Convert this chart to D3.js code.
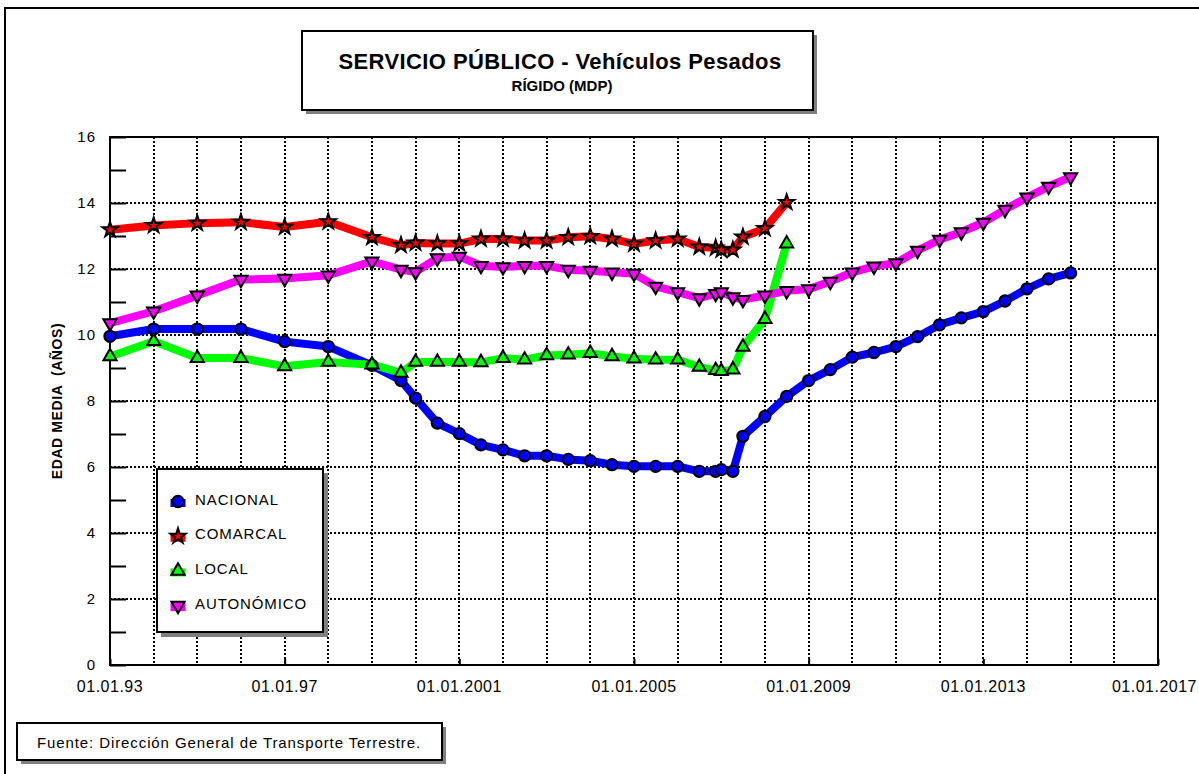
<!DOCTYPE html>
<html>
<head>
<meta charset="utf-8">
<script src="https://cdn.jsdelivr.net/npm/d3@7"></script>
<style>
  body { margin: 0; background: #fff; }
  svg { display: block; font-family: "Liberation Sans", Arial, sans-serif; }
</style>
</head>
<body>
<div id="chart"></div>
<script>
// fechas de muestreo (algunas a mitad de año)
const fechas = ["1993-01-01","1994-01-01","1995-01-01","1996-01-01","1997-01-01","1998-01-01","1999-01-01","1999-09-01",
  "2000-01-01","2000-07-01","2001-01-01","2001-07-01","2002-01-01","2002-07-01","2003-01-01","2003-07-01",
  "2004-01-01","2004-07-01","2005-01-01","2005-07-01","2006-01-01","2006-07-01","2006-11-15","2007-01-01",
  "2007-04-08","2007-07-01","2008-01-01","2008-07-01","2009-01-01","2009-07-01","2010-01-01","2010-07-01",
  "2011-01-01","2011-07-01","2012-01-01","2012-07-01","2013-01-01","2013-07-01","2014-01-01","2014-07-01","2015-01-01"];

const nacional = [9.96,10.18,10.18,10.18,9.80,9.65,9.08,8.62,8.09,7.33,7.01,6.67,6.52,6.34,6.34,6.23,6.19,6.07,6.02,6.02,
  6.02,5.87,5.87,5.92,5.87,6.93,7.53,8.14,8.62,8.95,9.33,9.47,9.65,9.95,10.31,10.52,10.71,11.03,11.40,11.70,11.88];
const comarcal = [13.19,13.32,13.39,13.42,13.27,13.43,12.96,12.72,12.79,12.77,12.77,12.91,12.91,12.86,12.86,12.96,12.99,
  12.91,12.76,12.86,12.91,12.67,12.64,12.58,12.58,12.97,13.23,14.02];
const local = [9.35,9.81,9.30,9.30,9.05,9.18,9.10,8.85,9.18,9.18,9.18,9.17,9.30,9.25,9.38,9.40,9.45,9.35,9.28,9.25,9.25,
  9.03,8.93,8.90,8.95,9.64,10.48,12.77];
const autonomico = [10.36,10.72,11.20,11.68,11.71,11.81,12.23,11.98,11.91,12.33,12.38,12.10,12.06,12.10,12.10,11.98,11.95,
  11.90,11.86,11.47,11.30,11.12,11.25,11.30,11.15,11.07,11.20,11.34,11.39,11.62,11.90,12.08,12.18,12.56,12.89,13.12,
  13.41,13.80,14.17,14.50,14.79];

const seriesNames = ["NACIONAL", "COMARCAL", "LOCAL", "AUTONÓMICO"];
const xTickLabels = ["01.01.93","01.01.97","01.01.2001","01.01.2005","01.01.2009","01.01.2013","01.01.2017"];

const width = 1199, height = 774,
    margin = ({ top: 137, right: 41, bottom: 109, left: 110 });

const parse = d3.timeParse("%Y-%m-%d");

const series = [
  { name: seriesNames[0], values: nacional, color: "#0000ff", symbol: d3.symbolCircle, size: 100, rot: 0 },
  { name: seriesNames[1], values: comarcal, color: "#ff0000", symbol: d3.symbolStar, size: 70, rot: 0 },
  { name: seriesNames[2], values: local, color: "#00ff00", symbol: d3.symbolTriangle, size: 75, rot: 0 },
  { name: seriesNames[3], values: autonomico, color: "#ff00ff", symbol: d3.symbolTriangle, size: 75, rot: 180 }
];
series.forEach(s => s.points = s.values.map((v, i) => ({ date: parse(fechas[i]), value: v })));

const svg = d3.select("#chart")
  .append("svg")
  .attr("width", width)
  .attr("height", height);

// marco exterior
svg.append("rect")
  .attr("x", 5).attr("y", 8)
  .attr("width", width + 10).attr("height", height + 10)
  .attr("fill", "none").attr("stroke", "#000").attr("stroke-width", 2);

const x = d3.scaleTime()
  .domain([parse("1993-01-01"), parse("2017-01-01")])
  .range([margin.left, width - margin.right]);

const y = d3.scaleLinear()
  .domain([0, 16])
  .range([height - margin.bottom, margin.top]);

// rejilla
const grid = svg.append("g").attr("class", "grid")
  .attr("stroke", "#000").attr("stroke-width", 2).attr("stroke-dasharray", "2,2");

grid.selectAll("line.v")
  .data(d3.timeYear.range(parse("1994-01-01"), parse("2017-01-01")))
  .join("line")
  .attr("class", "v")
  .attr("x1", d => Math.round(x(d))).attr("x2", d => Math.round(x(d)))
  .attr("y1", y(16)).attr("y2", y(0));

grid.selectAll("line.h")
  .data(d3.range(2, 16, 2))
  .join("line")
  .attr("class", "h")
  .attr("x1", x.range()[0]).attr("x2", x.range()[1])
  .attr("y1", d => Math.round(y(d))).attr("y2", d => Math.round(y(d)));

// ejes
const yAxis = svg.append("g")
  .attr("transform", `translate(${margin.left},0)`)
  .call(d3.axisRight(y).tickValues(d3.range(0, 17)).tickSize(16).tickFormat(""));
yAxis.select(".domain").remove();
yAxis.selectAll(".tick line").attr("stroke-width", 2);

svg.append("g")
  .selectAll("text")
  .data(d3.range(0, 17, 2))
  .join("text")
  .attr("x", margin.left - 14)
  .attr("y", d => y(d))
  .attr("dy", "0.35em")
  .attr("text-anchor", "end")
  .style("font-size", "15px")
  .style("letter-spacing", "1px")
  .text(d => d);

const xTicks = d3.range(1993, 2018, 4).map(yr => parse(yr + "-01-01"));

const xAxis = svg.append("g")
  .attr("transform", `translate(0,${height - margin.bottom})`)
  .call(d3.axisTop(x).tickValues(xTicks).tickSize(6).tickFormat(""));
xAxis.select(".domain").remove();
xAxis.selectAll(".tick line").attr("stroke-width", 2);

svg.append("g")
  .selectAll("text")
  .data(xTicks)
  .join("text")
  .attr("y", height - margin.bottom + 27)
  .attr("text-anchor", "middle")
  .style("font-size", "16px")
  .style("letter-spacing", "0.5px")
  .text((d, i) => xTickLabels[i])
  .attr("x", function(d) {
    // la última etiqueta queda pegada al borde derecho
    const half = this.getComputedTextLength() / 2;
    return Math.min(x(d), width - 2 - half);
  });

// marco del gráfico
svg.append("path")
  .attr("d", `M${x.range()[0]},${y(16)}H${x.range()[1]}V${y(0)}H${x.range()[0]}Z`)
  .attr("fill", "none").attr("stroke", "#000").attr("stroke-width", 2);

// líneas
const line = d3.line().x(d => x(d.date)).y(d => y(d.value));

svg.append("g").selectAll("path")
  .data(series)
  .join("path")
  .attr("d", s => line(s.points))
  .attr("fill", "none")
  .attr("stroke", s => s.color)
  .attr("stroke-width", 8)
  .attr("stroke-linejoin", "round");

// marcadores
const symbolPath = (s) => d3.symbol().type(s.symbol).size(s.size)();

series.forEach(s => {
  svg.append("g").selectAll("path")
    .data(s.points)
    .join("path")
    .attr("d", symbolPath(s))
    .attr("transform", d => `translate(${x(d.date)},${y(d.value)}) rotate(${s.rot})`)
    .attr("fill", s.color)
    .attr("stroke", "#000")
    .attr("stroke-width", 2);
});

// leyenda
const lg = svg.append("g").attr("class", "legend");
lg.append("rect").attr("x", 161).attr("y", 473).attr("width", 167).attr("height", 164).attr("fill", "#808080");
lg.append("rect").attr("x", 157).attr("y", 469).attr("width", 166).attr("height", 163)
  .attr("fill", "#fff").attr("stroke", "#000").attr("stroke-width", 2);

const item = lg.selectAll("g.item")
  .data(series)
  .join("g")
  .attr("class", "item")
  .attr("transform", (d, i) => `translate(178,${501.5 + i * 34.7})`);

item.append("rect")
  .attr("x", -7.5).attr("y", -2.5).attr("width", 15).attr("height", 8)
  .attr("fill", d => d.color);
item.append("path")
  .attr("d", d => symbolPath(d))
  .attr("transform", d => `rotate(${d.rot})`)
  .attr("fill", d => d.color)
  .attr("stroke", "#000").attr("stroke-width", 2);
item.append("text")
  .attr("x", 17).attr("y", 3)
  .style("font-size", "15px")
  .style("letter-spacing", "0.9px")
  .text(d => d.name);

// título
svg.append("rect").attr("x", 306).attr("y", 35).attr("width", 511).attr("height", 79).attr("fill", "#808080");
svg.append("rect").attr("x", 302).attr("y", 31).attr("width", 511).attr("height", 79)
  .attr("fill", "#fff").attr("stroke", "#000").attr("stroke-width", 2);
svg.append("text")
  .attr("x", 560).attr("y", 69)
  .attr("text-anchor", "middle")
  .style("font-size", "22px").style("font-weight", "bold")
  .style("letter-spacing", "0.4px")
  .text("SERVICIO PÚBLICO - Vehículos Pesados");
svg.append("text")
  .attr("x", 562).attr("y", 91)
  .attr("text-anchor", "middle")
  .style("font-size", "15px").style("font-weight", "bold")
  .text("RÍGIDO (MDP)");

// etiqueta eje y
svg.append("text")
  .attr("transform", `translate(62,${y(8)}) rotate(-90)`)
  .attr("text-anchor", "middle")
  .style("font-size", "14px").style("font-weight", "bold")
  .style("letter-spacing", "0.6px")
  .style("white-space", "pre")
  .text("EDAD MEDIA  (AÑOS)");

// fuente
svg.append("rect").attr("x", 21).attr("y", 727).attr("width", 425).attr("height", 37).attr("fill", "#808080");
svg.append("rect").attr("x", 17).attr("y", 723).attr("width", 425).attr("height", 37)
  .attr("fill", "#fff").attr("stroke", "#000").attr("stroke-width", 2);
svg.append("text")
  .attr("x", 37).attr("y", 748)
  .style("font-size", "15px")
  .style("letter-spacing", "0.9px")
  .text("Fuente: Dirección General de Transporte Terrestre.");
</script>
</body>
</html>
